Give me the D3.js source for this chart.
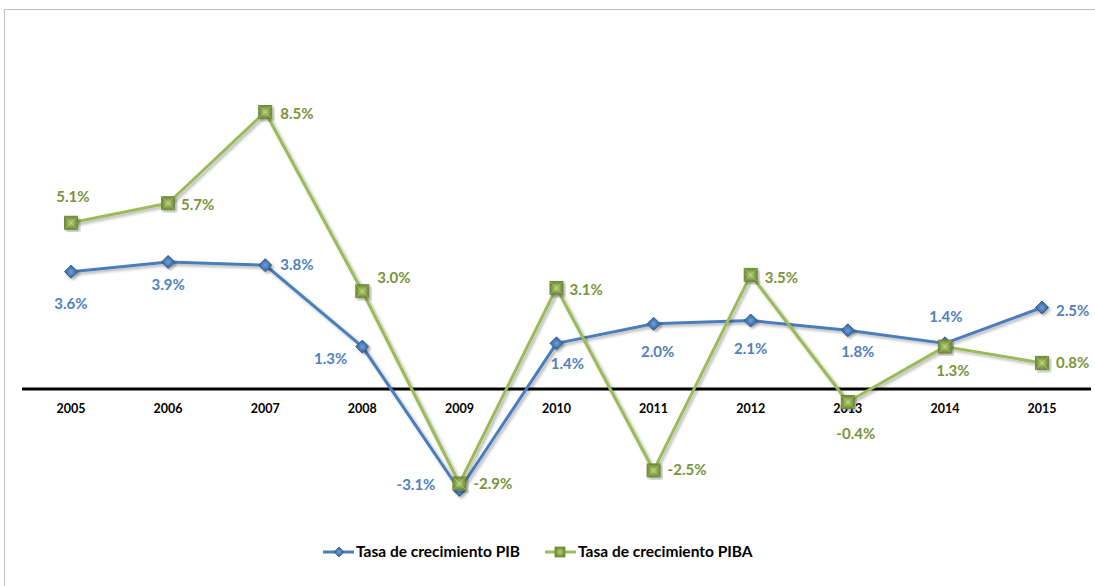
<!DOCTYPE html>
<html>
<head>
<meta charset="utf-8">
<script src="https://cdn.jsdelivr.net/npm/d3@7"></script>
<style>
  body { margin: 0; background: #fff; }
  text { font-family: Lato, "Open Sans", sans-serif; font-weight: bold; }
</style>
</head>
<body>
<div id="chart"></div>
<script>
// data
var years = ["2005","2006","2007","2008","2009","2010","2011","2012","2013","2014","2015"];
var pib  = [3.6, 3.9, 3.8, 1.3, -3.1, 1.4, 2.0, 2.1, 1.8, 1.4, 2.5];
var piba = [5.1, 5.7, 8.5, 3.0, -2.9, 3.1, -2.5, 3.5, -0.4, 1.3, 0.8];
var seriesNames = ["Tasa de crecimiento PIB", "Tasa de crecimiento PIBA"];

// label placement as Excel left it: anchor and nudge from the point
var pibAnchor  = ["middle","middle","start","end","end","middle","middle","middle","middle","middle","start"];
var pibNudge   = [[0,37],[0,28],[15,5],[-15,17],[-24,0],[11,26],[4,33],[0,33],[10,27],[1,-21],[14,8]];
var pibaAnchor = ["middle","start","start","start","start","start","start","start","middle","middle","start"];
var pibaNudge  = [[2,-21],[13,7],[15,7],[15,-8],[14,6],[13,7],[14,5],[14,8],[8,37],[8,29],[14,5]];

var width = 1095, height = 586;
var svg = d3.select("#chart").append("svg")
  .attr("width", width)
  .attr("height", height);

var defs = svg.append("defs");
var f = defs.append("filter").attr("id", "shadow")
  .attr("x", "-20%").attr("y", "-20%").attr("width", "140%").attr("height", "140%");
f.append("feDropShadow").attr("dx", 2).attr("dy", 2).attr("stdDeviation", 1.5)
  .attr("flood-color", "#000").attr("flood-opacity", 0.3);

var gGrad = defs.append("radialGradient").attr("id", "sq");
gGrad.append("stop").attr("offset", "0%").attr("stop-color", "#b5cf7a");
gGrad.append("stop").attr("offset", "100%").attr("stop-color", "#6f8c32");
var bGrad = defs.append("radialGradient").attr("id", "dm");
bGrad.append("stop").attr("offset", "0%").attr("stop-color", "#6f9fd8");
bGrad.append("stop").attr("offset", "100%").attr("stop-color", "#2f5f98");

// frame (only top and left edges show in the crop)
svg.append("path")
  .attr("d", "M4.5,586 V9.5 H1095")
  .attr("fill", "none").attr("stroke", "#bfbfbf").attr("stroke-width", 1);

var x = d3.scalePoint().domain(years).range([71, 1042]);
var y = d3.scaleLinear().domain([-3.1, 8.5]).range([490, 112]);

// zero axis
svg.append("line")
  .attr("x1", 22).attr("x2", 1091)
  .attr("y1", y(0)).attr("y2", y(0))
  .attr("stroke", "#000").attr("stroke-width", 3);

var line = d3.line()
  .x(function(d, i) { return x(years[i]); })
  .y(function(d) { return y(d); });

var blue = "#4a7ebb", green = "#9bbb59";
var blueText = "#4f81bd", greenText = "#77933c";

var series = [
  { vals: pib,  color: blue,  textColor: blueText,  anchor: pibAnchor,  nudge: pibNudge,  marker: "diamond" },
  { vals: piba, color: green, textColor: greenText, anchor: pibaAnchor, nudge: pibaNudge, marker: "square" }
];

function drawMarker(g, type, cx, cy) {
  if (type === "diamond") {
    g.append("path")
      .attr("d", "M" + cx + "," + (cy - 6.5) + " L" + (cx + 6.5) + "," + cy + " L" + cx + "," + (cy + 6.5) + " L" + (cx - 6.5) + "," + cy + "Z")
      .attr("fill", "url(#dm)").attr("stroke", "#385d8a").attr("stroke-width", 1)
      .attr("filter", "url(#shadow)");
  } else {
    g.append("rect")
      .attr("x", cx - 6.5).attr("y", cy - 6.5).attr("width", 13).attr("height", 13)
      .attr("fill", "url(#sq)").attr("stroke", "#71893f").attr("stroke-width", 1)
      .attr("filter", "url(#shadow)");
    g.append("path")
      .attr("d", "M" + (cx - 6) + "," + (cy - 6) + " L" + cx + "," + cy + " L" + (cx + 6) + "," + (cy - 6) +
                 " M" + (cx - 6) + "," + (cy + 6) + " L" + cx + "," + cy + " L" + (cx + 6) + "," + (cy + 6))
      .attr("fill", "none").attr("stroke", "#c9dd9c").attr("stroke-width", 0.8).attr("opacity", 0.7);
  }
}

series.forEach(function(s) {
  svg.append("path")
    .datum(s.vals)
    .attr("d", line)
    .attr("fill", "none")
    .attr("stroke", s.color)
    .attr("stroke-width", 3)
    .attr("stroke-linejoin", "round")
    .attr("filter", "url(#shadow)");
});

// tick labels
svg.append("g").selectAll("text")
  .data(years).enter().append("text")
  .attr("x", function(d) { return x(d); })
  .attr("y", y(0) + 24)
  .attr("text-anchor", "middle")
  .attr("font-size", 12.5)
  .attr("fill", "#000")
  .text(function(d) { return d; });

series.forEach(function(s) {
  var g = svg.append("g");
  s.vals.forEach(function(v, i) {
    drawMarker(g, s.marker, x(years[i]), y(v));
  });
});

// data labels
var fmt = d3.format(".1f");
series.forEach(function(s) {
  s.vals.forEach(function(v, i) {
    svg.append("text")
      .attr("x", x(years[i]) + s.nudge[i][0])
      .attr("y", y(v) + s.nudge[i][1])
      .attr("text-anchor", s.anchor[i])
      .attr("font-size", 15)
      .attr("fill", s.textColor)
      .text(fmt(v).replace("\u2212", "-") + "%");
  });
});

// legend
var legend = svg.append("g");
var legendX = [323, 545];
series.forEach(function(s, i) {
  var lx = legendX[i], ly = 552;
  legend.append("line")
    .attr("x1", lx).attr("x2", lx + 31).attr("y1", ly).attr("y2", ly)
    .attr("stroke", s.color).attr("stroke-width", 3);
  if (s.marker === "diamond") {
    legend.append("path")
      .attr("d", "M" + (lx + 16) + "," + (ly - 5) + " L" + (lx + 21) + "," + ly + " L" + (lx + 16) + "," + (ly + 5) + " L" + (lx + 11) + "," + ly + "Z")
      .attr("fill", "url(#dm)").attr("stroke", "#385d8a").attr("stroke-width", 0.8);
  } else {
    legend.append("rect")
      .attr("x", lx + 10).attr("y", ly - 5).attr("width", 10).attr("height", 10)
      .attr("fill", "url(#sq)").attr("stroke", "#71893f").attr("stroke-width", 0.8);
  }
  legend.append("text")
    .attr("x", lx + 33).attr("y", ly + 5)
    .attr("font-size", 15.5)
    .attr("fill", "#000")
    .text(seriesNames[i]);
});
</script>
</body>
</html>
